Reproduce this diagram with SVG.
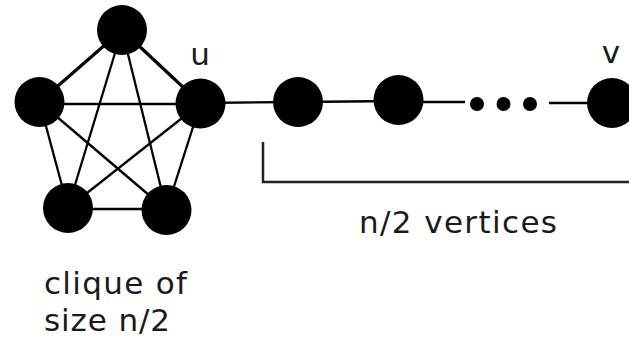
<svg xmlns="http://www.w3.org/2000/svg" width="629" height="338" viewBox="0 0 629 338">
  <style>
    .edge { stroke: #000; stroke-width: 2.3; fill: none; }
    .edge.thick { stroke-width: 3.2; }
    .node { fill: #000; }
    .dot { fill: #000; }
    .label { font-family: "DejaVu Sans", "Liberation Sans", sans-serif; font-size: 31px; fill: #1a1a1a; }
    .bracket { stroke: #222; stroke-width: 2.5; fill: none; }
  </style>
  <rect width="629" height="338" fill="#fff"/>

  <!-- connectors: clique edges and path edges -->
  <g id="edges">
    <line class="edge thick" x1="122" y1="30" x2="39.5" y2="102"/>
    <line class="edge thick" x1="122" y1="30" x2="200.5" y2="103.5"/>
    <line class="edge" x1="122" y1="30" x2="68" y2="208"/>
    <line class="edge" x1="122" y1="30" x2="166.5" y2="210"/>
    <line class="edge" x1="39.5" y1="104" x2="200.5" y2="104"/>
    <line class="edge" x1="39.5" y1="102" x2="68" y2="208"/>
    <line class="edge" x1="39.5" y1="102" x2="166.5" y2="210"/>
    <line class="edge" x1="200.5" y1="103.5" x2="68" y2="208"/>
    <line class="edge" x1="200.5" y1="103.5" x2="166.5" y2="210"/>
    <line class="edge" x1="68" y1="209" x2="166.5" y2="209"/>
    <line class="edge" x1="200.5" y1="103" x2="298" y2="102"/>
    <line class="edge" x1="298" y1="102" x2="398.5" y2="101"/>
    <line class="edge" x1="398.5" y1="102" x2="465" y2="102"/>
    <line class="edge" x1="549" y1="103" x2="612" y2="103"/>
  </g>

  <!-- clique of size n/2 -->
  <g id="clique-top"><circle class="node" cx="122" cy="30" r="25"/></g>
  <g id="clique-left"><circle class="node" cx="39.5" cy="102" r="25"/></g>
  <g id="node-u"><circle class="node" cx="200.5" cy="103.5" r="25"/></g>
  <g id="clique-bottom-left"><circle class="node" cx="68" cy="208" r="25"/></g>
  <g id="clique-bottom-right"><circle class="node" cx="166.5" cy="210" r="25"/></g>

  <!-- path of n/2 vertices -->
  <g id="path-1"><circle class="node" cx="298" cy="102" r="25"/></g>
  <g id="path-2"><circle class="node" cx="398.5" cy="100" r="25"/></g>
  <g id="ellipsis">
    <circle class="dot" cx="477" cy="104" r="7"/>
    <circle class="dot" cx="503.5" cy="104" r="7"/>
    <circle class="dot" cx="530" cy="104" r="7"/>
  </g>
  <g id="node-v"><circle class="node" cx="612" cy="103" r="25"/></g>

  <!-- bracket under the path -->
  <path class="bracket" d="M263,142 V182 H629"/>

  <!-- labels -->
  <text class="label" x="200" y="65" text-anchor="middle">u</text>
  <text class="label" x="611" y="63" text-anchor="middle">v</text>
  <text class="label" x="359" y="233" textLength="198">n/2 vertices</text>
  <text class="label" x="44" y="294" textLength="143">clique of</text>
  <text class="label" x="44" y="331" textLength="126">size n/2</text>
</svg>
